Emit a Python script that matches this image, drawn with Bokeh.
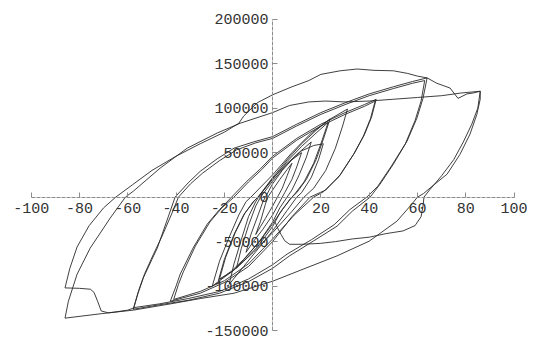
from bokeh.plotting import figure
from bokeh.models import Range1d, FixedTicker
from bokeh.embed import file_html
from bokeh.resources import INLINE

# ---- axis ticks / labels ----
x_ticks = [-100, -80, -60, -40, -20, 0, 20, 40, 60, 80, 100]
x_tick_labels = ["-100", "-80", "-60", "-40", "-20", "", "20", "40", "60", "80", "100"]
y_ticks = [-150000, -100000, -50000, 0, 50000, 100000, 150000, 200000]
y_tick_labels = ["-150000", "-100000", "-50000", "0", "50000", "100000", "150000", "200000"]

# ---- small cycles ----
s1_x = [8, 6, 4, 2, 0, -3, -5, -7, -5, -3, -2, 0, 3, 6, 8]
s1_y = [38000, 24000, 10000, 0, -10000, -24000, -33000, -42000, -27000, -8000, 0, 8000, 20000, 31000, 38000]

s2_x = [12, 10, 8, 5, 4, 0, -4, -8, -11, -9, -6, -4, -3, 0, 4, 8, 12]
s2_y = [50000, 34000, 20000, 5000, 0, -20000, -36000, -50000, -62000, -42000, -20000, -5000, 0, 15000, 30000, 42000, 50000]

s3_x = [16, 14, 11, 8, 6, 3, 0, -5, -10, -15, -13, -10, -7, -5, 0, 5, 10, 16]
s3_y = [62000, 45000, 25000, 8000, 0, -12000, -28000, -48000, -64000, -80000, -58000, -32000, -10000, 0, 18000, 34000, 48000, 62000]

s4_x = [21, 19, 16, 12, 10, 6, 0, -6, -12, -18, -16, -13, -10, -7, -5, 0, 6, 12, 17, 21]
s4_y = [60000, 42000, 22000, 5000, 0, -15000, -38000, -58000, -78000, -98000, -75000, -48000, -22000, -5000, 3000, 21000, 38000, 52000, 58000, 60000]

s5_x = [23.8, 21, 18, 14, 10, 8, 4, 0, -6, -12, -17, -22.5, -20, -16, -12, -8, -6, 0, 6, 12, 18, 23.8]
s5_y = [88000, 65000, 42000, 20000, 5000, 0, -14000, -30000, -52000, -70000, -83000, -94000, -70000, -42000, -20000, -5000, 0, 22000, 42000, 60000, 75000, 88000]

s5b_x = [23, 20, 17, 13, 9, 7, 3, 0, -6, -12, -17, -22, -19.5, -15.5, -11.5, -7.5, -5.5, 0, 6, 12, 18, 23]
s5b_y = [84000, 60000, 38000, 17000, 3000, -3000, -18000, -33000, -55000, -72000, -84000, -92000, -68000, -40000, -18000, -4000, 2000, 20000, 40000, 57000, 72000, 84000]

s6_x = [31, 29, 26, 22, 17, 13, 8, 0, -8, -16, -25, -22, -18, -14, -11, -9, 0, 8, 16, 24, 31]
s6_y = [99000, 80000, 55000, 30000, 10000, 0, -16000, -40000, -62000, -82000, -100000, -72000, -45000, -20000, -5000, 0, 25000, 50000, 72000, 88000, 99000]

# ---- +-43 cycles ----
c7_x = [42.9, 41, 38, 34, 28, 22, 15.5, 8, 0, -10, -20, -30, -42.4, -40, -38.3, -33, -27.1, -22, -17, -10.6, -5, 0, 10, 20, 30, 38, 42.9]
c7_y = [110000, 90000, 70000, 50000, 25000, 8000, 0, -22000, -50000, -78000, -96000, -108000, -117000, -100000, -86600, -57400, -30400, -14000, 0, 18000, 32000, 46000, 66000, 82000, 95000, 104000, 110000]

c7b_x = [42.5, 40.5, 37.5, 33.5, 27.5, 21, 17, 9, 0, -10, -20, -30, -41, -39, -37, -32, -26, -21, -16, -10, -4.5, 0, 10, 20, 30, 38, 42.5]
c7b_y = [108000, 88000, 68000, 48000, 23000, 6000, 0, -20000, -47000, -75000, -94000, -106000, -115000, -98000, -84000, -55000, -28000, -12000, 0, 17000, 31000, 44000, 64000, 80000, 93000, 102000, 108000]

# ---- +-64 cycles ----
c8_x = [64, 62.3, 59.8, 55.7, 50, 44.5, 40.4, 33, 26.7, 16.8, 7, 0, -10, -22, -35, -47, -57.7,
        -56, -53.6, -50, -47.8, -44, -40.4, -35, -30, -23, -16, -8, 0, 10, 20, 30, 40, 50, 58, 64]
c8_y = [134000, 111000, 89000, 63000, 37000, 14600, 0, -15800, -32600, -49500, -66000, -80000, -95000, -108000, -116000, -121000, -126000,
        -110000, -91000, -70000, -57400, -28000, 0, 16000, 29000, 43000, 55000, 62000, 68000, 82000, 95000, 106000, 116000, 124000, 130000, 134000]

c8b_x = [-57.7, -55.5, -53, -49.5, -46, -42, -39, -34, -29, -22, -15, -7, 0, 10, 20, 30, 40, 50, 58, 63,
         61.5, 59, 55, 49, 43.5, 39, 32, 25.5, 16, 6, 0, -10, -22, -35, -47, -57,
         -60, -65, -68, -71, -72.5, -74, -75.5, -80, -86,
         -84, -81, -76, -70, -65, -58, -50, -40, -30, -20, -14, -12, -6.4, 0, 8, 15, 20, 28, 35, 42, 50, 56, 60, 64,
         68, 73.5, 76.8, 80.5, 83, 86]
c8b_y = [-126000, -105000, -86000, -65000, -45000, -20000, 0, 15000, 27000, 41000, 53000, 61000, 66000, 80000, 93000, 104000, 114000, 122000, 128000, 131000,
         108000, 86000, 60000, 34000, 12000, 0, -14000, -31000, -48000, -64000, -76000, -92000, -106000, -114000, -120000, -124000,
         -127000, -129000, -130000, -128000, -117000, -107000, -103500, -102500, -102000,
         -80000, -56000, -32000, -12000, 0, 14000, 30000, 46000, 60000, 73000, 83000, 91000, 106000, 115000, 124000, 131000, 138000, 142000, 144000, 142500, 142000, 139000, 136000, 134000,
         128000, 122600, 111000, 116000, 117000, 119000]

# ---- +-86 cycles ----
d1_x = [86, 86, 84.6, 81.8, 77.6, 72.3, 66, 62.5, 60, 57, 51.5, 40, 26.7, 12.6, 0, -16, -30, -42.4, -57.7, -71, -86]
d1_y = [119000, 110000, 93000, 71000, 48000, 25900, 12000, 4000, 0, -10000, -27000, -49500, -66000, -81000, -94500, -108000, -114000, -120000, -127000, -131000, -136000]

flat_x = [-86, -84.6, -81, -75.6, -67.3, -61, -57.7, -46.6, -35.4, -23, -13.5, 0, 7, 15, 22, 30, 40, 50, 60, 70, 78, 86]
flat_y = [-136000, -117000, -86600, -57400, -23600, 0, 6700, 32600, 55000, 72000, 83000, 95000, 103000, 107000, 108000, 107000, 108000, 110000, 112000, 114000, 117000, 119000]

hook_x = [1, 2.3, 3.5, 5, 7, 12, 19.7, 26, 33, 40, 47, 54, 59, 61.5, 62.3, 62.7, 65, 70, 75, 79, 82.5, 85, 86]
hook_y = [-28000, -36000, -42000, -49000, -53000, -53000, -52000, -50000, -47000, -45000, -41000, -38000, -32000, -22000, -10000, 0, 8000, 24000, 42000, 62000, 82000, 100000, 119000]

paths = [(s1_x, s1_y), (s2_x, s2_y), (s3_x, s3_y), (s4_x, s4_y), (s5_x, s5_y), (s5b_x, s5b_y),
         (s6_x, s6_y), (c7_x, c7_y), (c7b_x, c7b_y), (c8_x, c8_y), (c8b_x, c8b_y),
         (d1_x, d1_y), (flat_x, flat_y), (hook_x, hook_y)]

p = figure(width=537, height=342,
           x_range=Range1d(-109, 106), y_range=Range1d(-160000, 212000),
           output_backend="svg", toolbar_location=None,
           min_border_left=9, min_border_right=9, min_border_top=8, min_border_bottom=3)
p.grid.visible = False
p.outline_line_color = None
p.background_fill_color = "white"
p.border_fill_color = "white"

for xs, ys in paths:
    p.line(xs, ys, line_color="#2a2a2a", line_width=0.9)

font = "Liberation Mono"
for ax in [p.xaxis[0], p.yaxis[0]]:
    ax.fixed_location = 0
    ax.axis_line_color = "#8c8c8c"
    ax.axis_line_dash = "4 1"
    ax.axis_line_width = 1
    ax.major_tick_line_color = "#8c8c8c"
    ax.major_tick_in = 5
    ax.major_tick_out = 0
    ax.minor_tick_line_color = None
    ax.major_label_text_font = font
    ax.major_label_text_font_size = "15px"
    ax.major_label_text_color = "#333333"

p.xaxis[0].ticker = FixedTicker(ticks=x_ticks)
p.xaxis[0].bounds = (-100, 100)
p.xaxis[0].major_label_overrides = {t: l for t, l in zip(x_ticks, x_tick_labels)}
p.xaxis[0].major_label_standoff = 6
p.yaxis[0].ticker = FixedTicker(ticks=y_ticks)
p.yaxis[0].bounds = (-150000, 200000)
p.yaxis[0].major_label_overrides = {t: l for t, l in zip(y_ticks, y_tick_labels)}
p.yaxis[0].major_label_standoff = 4

open("out.html", "w").write(file_html(p, INLINE))
